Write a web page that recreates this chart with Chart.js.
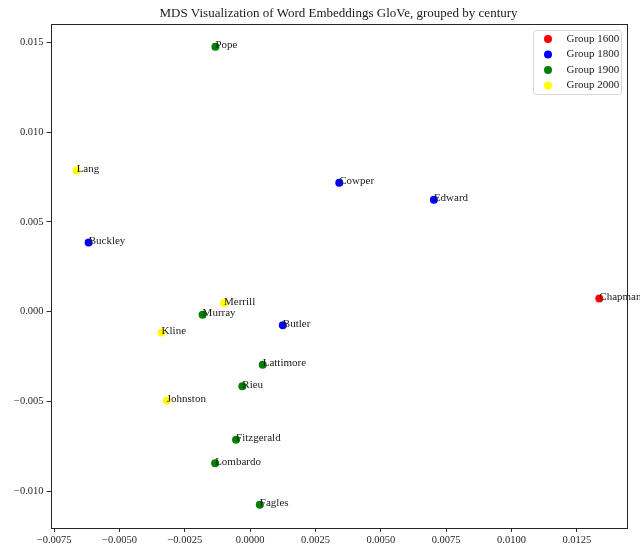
<!DOCTYPE html>
<html>
<head>
<meta charset="utf-8">
<script src="https://cdn.jsdelivr.net/npm/chart.js@4"></script>
<style>
  html, body { margin: 0; padding: 0; background: #fff; }
  #wrap { width: 640px; height: 551px; }
</style>
</head>
<body>
<div id="wrap"><canvas id="mdsChart" width="640" height="551"></canvas></div>
<script>
// translators and their MDS coordinates
const names  = ['Chapman', 'Cowper', 'Edward', 'Buckley', 'Butler', 'Pope', 'Murray', 'Lattimore', 'Rieu', 'Fitzgerald', 'Lombardo', 'Fagles', 'Lang', 'Merrill', 'Kline', 'Johnston'];
const xVals  = [0.01336, 0.00341, 0.00703, -0.00618, 0.00125, -0.00133, -0.00182, 0.00048, -0.00030, -0.00054, -0.00134, 0.00037, -0.00664, -0.00100, -0.00339, -0.00319];
const yVals  = [0.00072, 0.00717, 0.00623, 0.00385, -0.00076, 0.01475, -0.00018, -0.00297, -0.00416, -0.00715, -0.00845, -0.01076, 0.00786, 0.00047, -0.00117, -0.00496];
const century = [1600, 1800, 1800, 1800, 1800, 1900, 1900, 1900, 1900, 1900, 1900, 1900, 2000, 2000, 2000, 2000];

const groups      = [1600, 1800, 1900, 2000];
const groupColors = ['#ff0000', '#0000ff', '#008000', '#ffff00'];

const xTicks = [-0.0075, -0.0050, -0.0025, 0.0000, 0.0025, 0.0050, 0.0075, 0.0100, 0.0125];
const yTicks = [-0.010, -0.005, 0.000, 0.005, 0.010, 0.015];
const xRange = [-0.00764, 0.0144];
const yRange = [-0.01206, 0.01602];

const titleText = 'MDS Visualization of Word Embeddings GloVe, grouped by century';
const serif = '"Liberation Serif", "DejaVu Serif", serif';

const datasets = groups.map((g, gi) => {
    const pts = [];
    names.forEach((n, i) => {
        if (century[i] === g) pts.push({ x: xVals[i], y: yVals[i], name: n });
    });
    return {
        label: 'Group ' + g,
        data: pts,
        backgroundColor: groupColors[gi],
        borderColor: groupColors[gi],
        borderWidth: 0,
        pointRadius: 4,
        pointHoverRadius: 4
    };
});

function fmt(v, d) {
    const s = Math.abs(v).toFixed(d);
    return (v < -1e-12 ? '\u2212' : '') + s;
}

// labels, frame, title and legend, drawn like matplotlib does
const decorPlugin = {
    id: 'decor',
    afterDatasetsDraw(chart) {
        const ctx = chart.ctx;
        const a = chart.chartArea;
        ctx.save();

        // point labels
        ctx.font = '11px ' + serif;
        ctx.fillStyle = '#1a1a1a';
        ctx.textAlign = 'left';
        ctx.textBaseline = 'alphabetic';
        chart.data.datasets.forEach((ds, di) => {
            const meta = chart.getDatasetMeta(di);
            meta.data.forEach((el, i) => {
                ctx.fillText(ds.data[i].name, el.x, el.y + 1.5);
            });
        });

        // frame
        ctx.strokeStyle = '#262626';
        ctx.lineWidth = 1;
        ctx.strokeRect(Math.round(a.left) + 0.5, Math.round(a.top) + 0.5,
                       Math.round(a.right - a.left), Math.round(a.bottom - a.top));

        // title
        ctx.font = '13px ' + serif;
        ctx.fillStyle = '#1a1a1a';
        ctx.textAlign = 'center';
        ctx.textBaseline = 'middle';
        ctx.fillText(titleText, (a.left + a.right) / 2, 13.5);

        // legend
        const lx = 533.5, ly = 30.5, lw = 88, lh = 64, r = 3;
        ctx.beginPath();
        ctx.moveTo(lx + r, ly);
        ctx.arcTo(lx + lw, ly, lx + lw, ly + lh, r);
        ctx.arcTo(lx + lw, ly + lh, lx, ly + lh, r);
        ctx.arcTo(lx, ly + lh, lx, ly, r);
        ctx.arcTo(lx, ly, lx + lw, ly, r);
        ctx.closePath();
        ctx.fillStyle = 'rgba(255,255,255,0.8)';
        ctx.fill();
        ctx.strokeStyle = '#d6d6d6';
        ctx.stroke();

        ctx.font = '11px ' + serif;
        ctx.textAlign = 'left';
        ctx.textBaseline = 'middle';
        datasets.forEach((ds, i) => {
            const cy = 39 + i * 15.5;
            ctx.beginPath();
            ctx.arc(548, cy, 4, 0, Math.PI * 2);
            ctx.fillStyle = ds.backgroundColor;
            ctx.fill();
            ctx.fillStyle = '#1a1a1a';
            ctx.fillText(ds.label, 566.5, cy);
        });

        ctx.restore();
    }
};

new Chart(document.getElementById('mdsChart').getContext('2d'), {
    type: 'scatter',
    data: { datasets: datasets },
    options: {
        responsive: false,
        animation: false,
        layout: { padding: { top: 24, right: 13.5, left: 0, bottom: 0 } },
        plugins: {
            legend: { display: false },
            title: { display: false },
            tooltip: { enabled: false }
        },
        scales: {
            x: {
                type: 'linear',
                min: xRange[0],
                max: xRange[1],
                afterBuildTicks: s => { s.ticks = xTicks.map(v => ({ value: v })); },
                afterFit: s => { s.height = 23; },
                border: { display: false },
                grid: { drawOnChartArea: false, drawTicks: true, tickLength: 4, color: '#333', lineWidth: 1 },
                ticks: {
                    color: '#262626',
                    font: { family: serif, size: 10.5 },
                    padding: 2,
                    maxRotation: 0,
                    autoSkip: false,
                    callback: v => fmt(v, 4)
                }
            },
            y: {
                type: 'linear',
                min: yRange[0],
                max: yRange[1],
                afterBuildTicks: s => { s.ticks = yTicks.map(v => ({ value: v })); },
                afterFit: s => { s.width = 50.5; },
                border: { display: false },
                grid: { drawOnChartArea: false, drawTicks: true, tickLength: 4, color: '#333', lineWidth: 1 },
                ticks: {
                    color: '#262626',
                    font: { family: serif, size: 10.5 },
                    padding: 3,
                    autoSkip: false,
                    callback: v => fmt(v, 3)
                }
            }
        }
    },
    plugins: [decorPlugin]
});
</script>
</body>
</html>
